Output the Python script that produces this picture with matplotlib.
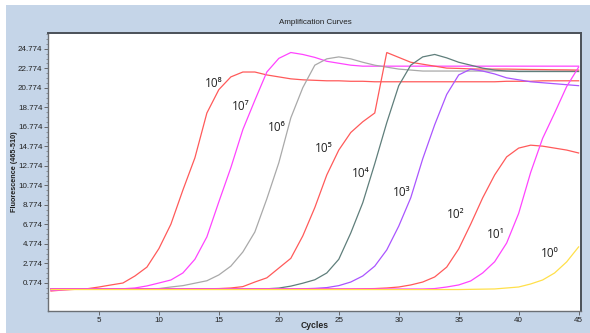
import numpy as np
import matplotlib
matplotlib.use("Agg")
import matplotlib.pyplot as plt
from matplotlib.patches import Rectangle
from matplotlib.ticker import FixedLocator

# Cycle numbers (x axis)
cycles = list(range(1, 46))

# Fluorescence (465-510) per cycle for each dilution of the standard
s1e8 = [-0.05, 0.05, 0.12, 0.18, 0.36, 0.57, 0.77, 1.49, 2.4, 4.3,
        6.8, 10.3, 13.6, 18.2, 20.6, 21.9, 22.4, 22.4, 22.1, 21.9,
        21.7, 21.6, 21.55, 21.5, 21.5, 21.45, 21.45, 21.4, 21.4, 21.4,
        21.4, 21.4, 21.4, 21.4, 21.4, 21.4, 21.4, 21.4, 21.45, 21.45,
        21.45, 21.5, 21.5, 21.5, 21.5]
s1e7 = [0.0, 0.08, 0.14, 0.16, 0.16, 0.16, 0.18, 0.26, 0.47, 0.77,
        1.08, 1.8, 3.2, 5.5, 9.1, 12.6, 16.5, 19.5, 22.4, 23.8,
        24.4, 24.2, 23.9, 23.5, 23.3, 23.1, 23.0, 23.0, 23.0, 23.0,
        23.0, 23.0, 23.0, 23.0, 23.0, 23.0, 23.0, 23.0, 23.0, 23.0,
        23.0, 23.0, 23.0, 23.0, 23.0]
s1e6 = [0.1, 0.14, 0.16, 0.16, 0.16, 0.16, 0.16, 0.16, 0.16, 0.2,
        0.36, 0.5, 0.75, 1.0, 1.6, 2.5, 3.95, 6.0, 9.4, 13.1,
        17.7, 20.8, 23.1, 23.75, 23.95, 23.75, 23.4, 23.1, 22.9, 22.7,
        22.6, 22.5, 22.5, 22.5, 22.5, 22.5, 22.5, 22.5, 22.5, 22.5,
        22.5, 22.5, 22.5, 22.5, 22.5]
s1e5 = [0.1, 0.14, 0.16, 0.16, 0.16, 0.16, 0.16, 0.16, 0.16, 0.16,
        0.16, 0.16, 0.16, 0.18, 0.2, 0.26, 0.4, 0.87, 1.3, 2.3,
        3.3, 5.6, 8.5, 11.85, 14.4, 16.2, 17.3, 18.2, 24.4, 23.9,
        23.4, 23.2, 23.0, 22.8, 22.77, 22.72, 22.7, 22.7, 22.7, 22.68,
        22.66, 22.65, 22.63, 22.62, 22.6]
s1e4 = [0.16, 0.16, 0.16, 0.16, 0.16, 0.16, 0.16, 0.16, 0.16, 0.16,
        0.16, 0.16, 0.16, 0.16, 0.16, 0.16, 0.16, 0.16, 0.18, 0.25,
        0.45, 0.75, 1.1, 1.8, 3.2, 5.9, 9.0, 13.0, 17.2, 21.0,
        23.1, 23.95, 24.2, 23.85, 23.4, 23.1, 22.8, 22.6, 22.5, 22.45,
        22.45, 22.45, 22.45, 22.45, 22.45]
s1e3 = [0.16, 0.16, 0.16, 0.16, 0.16, 0.16, 0.16, 0.16, 0.16, 0.16,
        0.16, 0.16, 0.16, 0.16, 0.16, 0.16, 0.16, 0.16, 0.16, 0.16,
        0.16, 0.18, 0.22, 0.3, 0.5, 0.87, 1.49, 2.5, 4.16, 6.6,
        9.5, 13.5, 17.0, 20.1, 22.1, 22.7, 22.5, 22.2, 21.8, 21.6,
        21.4, 21.3, 21.2, 21.1, 21.0]
s1e2 = [0.16, 0.16, 0.16, 0.16, 0.16, 0.16, 0.16, 0.16, 0.16, 0.16,
        0.16, 0.16, 0.16, 0.16, 0.16, 0.16, 0.16, 0.16, 0.16, 0.16,
        0.16, 0.16, 0.16, 0.16, 0.16, 0.16, 0.18, 0.2, 0.26, 0.36,
        0.57, 0.87, 1.39, 2.4, 4.26, 6.8, 9.5, 11.85, 13.7, 14.6,
        14.9, 14.8, 14.6, 14.4, 14.1]
s1e1 = [0.16, 0.16, 0.16, 0.16, 0.16, 0.16, 0.16, 0.16, 0.16, 0.16,
        0.16, 0.16, 0.16, 0.16, 0.16, 0.16, 0.16, 0.16, 0.16, 0.16,
        0.16, 0.16, 0.16, 0.16, 0.16, 0.16, 0.16, 0.16, 0.16, 0.16,
        0.16, 0.16, 0.2, 0.36, 0.57, 0.98, 1.8, 2.95, 4.87, 7.9,
        12.1, 15.6, 18.2, 20.9, 22.9]
s1e0 = [0.1, 0.1, 0.1, 0.1, 0.1, 0.1, 0.1, 0.1, 0.1, 0.1,
        0.1, 0.1, 0.1, 0.1, 0.1, 0.1, 0.1, 0.1, 0.1, 0.1,
        0.1, 0.1, 0.1, 0.1, 0.1, 0.1, 0.1, 0.1, 0.1, 0.1,
        0.1, 0.1, 0.1, 0.1, 0.1, 0.12, 0.14, 0.16, 0.26, 0.36,
        0.67, 1.08, 1.8, 2.93, 4.47]

series = [s1e8, s1e7, s1e6, s1e5, s1e4, s1e3, s1e2, s1e1, s1e0]
labels = ["10\u2078", "10\u2077", "10\u2076", "10\u2075", "10\u2074",
          "10\u00b3", "10\u00b2", "10\u00b9", "10\u2070"]
colors = ["#ff5a5a", "#ff44ff", "#a9a9a9", "#ff5a5a", "#5f7e7b",
          "#aa55ff", "#ff5a5a", "#ff44ff", "#ffe04a"]
# label anchor (cycle, fluorescence) for each curve's annotation
label_pos = [(13.8, 20.9), (16.1, 18.5), (19.1, 16.4), (23.0, 14.2), (26.1, 11.65),
             (29.5, 9.7), (34.0, 7.45), (37.35, 5.4), (41.85, 3.45)]

yticks = [0.774, 2.774, 4.774, 6.774, 8.774, 10.774, 12.774,
          14.774, 16.774, 18.774, 20.774, 22.774, 24.774]
xticks = [5, 10, 15, 20, 25, 30, 35, 40, 45]

axis_font = ["Liberation Sans", "DejaVu Sans"]

W, H = 590, 333
fig = plt.figure(figsize=(W / 100, H / 100), dpi=100)
fig.patch.set_facecolor("white")
fig.add_artist(Rectangle((6 / W, 0), 1 - 6 / W, (H - 5) / H,
                         transform=fig.transFigure, facecolor="#c5d5e8",
                         edgecolor="none", zorder=0))

ax = fig.add_axes([48 / W, 22 / H, (581 - 48) / W, (311 - 33) / H])
ax.set_facecolor("white")

for vals, col in zip(series, colors):
    ax.plot(cycles, vals, color=col, lw=0.9, solid_joinstyle="miter")

for lab, (lx, ly) in zip(labels, label_pos):
    ax.text(lx, ly, lab, ha="left", va="baseline", fontsize=8.5,
            color="#222222", family=["Open Sans", "DejaVu Sans"])

ax.set_xlim(0.75, 45.2)
ax.set_ylim(-2.1, 26.4)
ax.xaxis.set_major_locator(FixedLocator(xticks))
ax.yaxis.set_major_locator(FixedLocator(yticks))
ax.yaxis.set_minor_locator(FixedLocator(
    [v + d for v in [-1.226] + yticks for d in (0.5, 1.0, 1.5)
     if -2.1 < v + d < 26.4]))
ax.set_xticklabels([str(t) for t in xticks])
ax.set_yticklabels([f"{t:.3f}" for t in yticks])
ax.tick_params(axis="both", which="major", direction="out", length=3,
               width=0.6, color="#555555", labelsize=5.8,
               labelcolor="#222222", pad=1)
ax.tick_params(axis="y", which="minor", direction="out", length=1.5,
               width=0.5, color="#777777")
for t in ax.get_xticklabels() + ax.get_yticklabels():
    t.set_family(axis_font)

for side in ["left", "bottom"]:
    ax.spines[side].set_color("#6b6f74")
    ax.spines[side].set_linewidth(1.0)
for side in ["top", "right"]:
    ax.spines[side].set_color("#4a5058")
    ax.spines[side].set_linewidth(1.4)

fig.text(315 / W, 1 - 22 / H, "Amplification Curves", ha="center", va="center",
         fontsize=5.8, color="#222222", family=axis_font)
fig.text(315 / W, 1 - 326 / H, "Cycles", ha="center", va="center",
         fontsize=6.2, fontweight="bold", color="#222222", family=axis_font)
fig.text(15 / W, 1 - 172 / H, "Fluorescence (465-510)", ha="center", va="center",
         rotation=90, fontsize=5.2, fontweight="bold", color="#222222",
         family=axis_font)

fig.savefig("out.png", dpi=100, facecolor=fig.get_facecolor())
